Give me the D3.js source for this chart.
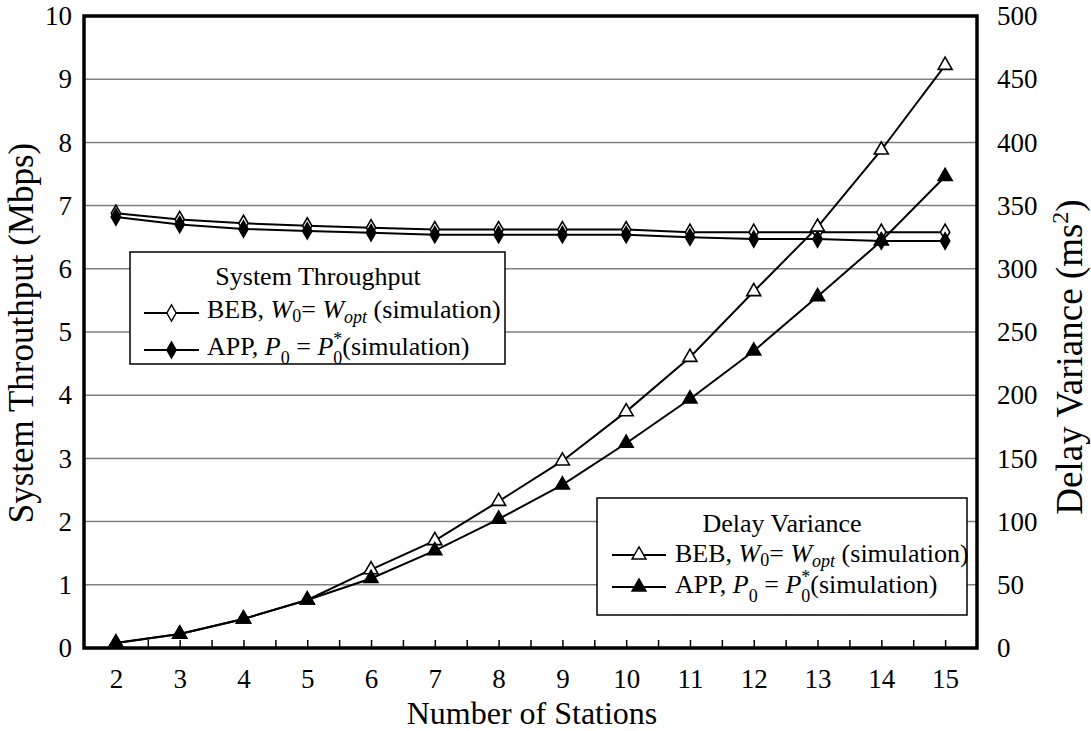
<!DOCTYPE html>
<html>
<head>
<meta charset="utf-8">
<script src="https://cdn.jsdelivr.net/npm/d3@7"></script>
<style>
  html, body { margin: 0; padding: 0; background: #fff; }
  svg { display: block; font-family: "Liberation Serif", "Times New Roman", serif; }
  svg text { font-family: "Liberation Serif", "Times New Roman", serif; }
</style>
</head>
<body>
<svg id="chart" width="1091" height="731"></svg>
<script>
// Number of stations on the x axis
const stations = [2, 3, 4, 5, 6, 7, 8, 9, 10, 11, 12, 13, 14, 15];
// System throughput (Mbps), left axis
const throughputBEB = [6.88, 6.78, 6.72, 6.68, 6.65, 6.62, 6.62, 6.62, 6.62, 6.58, 6.58, 6.58, 6.58, 6.58];
const throughputAPP = [6.82, 6.70, 6.63, 6.60, 6.57, 6.54, 6.54, 6.54, 6.54, 6.50, 6.47, 6.47, 6.44, 6.44];
// Delay variance (ms^2), right axis
const delayBEB = [4, 11, 23, 38, 62, 85, 116, 148, 187, 230, 282, 333, 394, 461];
const delayAPP = [4, 11, 23, 38, 55, 77, 102, 129, 162, 197, 235, 278, 322, 373];
// Tick labels
const leftTicks = [0, 1, 2, 3, 4, 5, 6, 7, 8, 9, 10];
const rightTicks = [0, 50, 100, 150, 200, 250, 300, 350, 400, 450, 500];

const svg = d3.select("#chart");
const L = 84, R = 977, T = 16, B = 648;
const FONT = "Liberation Serif";

const x = d3.scaleLinear().domain([1.5, 15.5]).range([L, R]);
const yL = d3.scaleLinear().domain([0, 10]).range([B, T]);
const yR = d3.scaleLinear().domain([0, 500]).range([B, T]);

// Horizontal gridlines
svg.append("g").selectAll("line").data(leftTicks.slice(1, -1)).join("line")
  .attr("x1", L).attr("x2", R)
  .attr("y1", d => yL(d)).attr("y2", d => yL(d))
  .attr("stroke", "#808080").attr("stroke-width", 1.5);

// Bottom axis: ticks at stations and between them, pointing inward
const xAxis = d3.axisBottom(x)
  .tickValues(d3.range(2, 15.01, 0.5))
  .tickSize(-8).tickSizeOuter(0).tickPadding(21)
  .tickFormat(d => Number.isInteger(d) ? d : "");
const gx = svg.append("g").attr("transform", `translate(0,${B})`).call(xAxis);
gx.select(".domain").remove();
gx.selectAll(".tick line").attr("stroke", "#000").attr("stroke-width", 1.5);
gx.selectAll("text").attr("font-size", 27).attr("fill", "#000").attr("font-family", FONT);

// Left axis labels
const gyl = svg.append("g").attr("transform", `translate(${L},0)`)
  .call(d3.axisLeft(yL).tickValues(leftTicks).tickSize(0).tickPadding(12));
gyl.select(".domain").remove();
gyl.selectAll("text").attr("font-size", 27).attr("fill", "#000").attr("font-family", FONT);

// Right axis labels
const gyr = svg.append("g").attr("transform", `translate(${R},0)`)
  .call(d3.axisRight(yR).tickValues(rightTicks).tickSize(0).tickPadding(20));
gyr.select(".domain").remove();
gyr.selectAll("text").attr("font-size", 27).attr("fill", "#000").attr("font-family", FONT);

// Plot frame
svg.append("rect").attr("x", L).attr("y", T).attr("width", R - L).attr("height", B - T)
  .attr("fill", "none").attr("stroke", "#000").attr("stroke-width", 3.5);

// Marker shapes
const diamond = d3.symbol().type(d3.symbolDiamond).size(75);
const triangle = d3.symbol().type(d3.symbolTriangle).size(85);

function drawSeries(values, yScale, shape, filled) {
  const pts = stations.map((s, i) => [x(s), yScale(values[i])]);
  svg.append("path").datum(pts)
    .attr("d", d3.line())
    .attr("fill", "none").attr("stroke", "#000").attr("stroke-width", 2);
  svg.append("g").selectAll("path").data(pts).join("path")
    .attr("transform", d => `translate(${d[0]},${d[1]})`)
    .attr("d", shape)
    .attr("fill", filled ? "#000" : "#fff")
    .attr("stroke", "#000").attr("stroke-width", 1.6);
}

drawSeries(throughputBEB, yL, diamond, false);
drawSeries(throughputAPP, yL, diamond, true);
drawSeries(delayBEB, yR, triangle, false);
drawSeries(delayAPP, yR, triangle, true);

// Legend helpers
const LF = 26, SF = 18;
function legendRow(g, lx1, lx2, ly, shape, filled) {
  g.append("line").attr("x1", lx1).attr("x2", lx2).attr("y1", ly).attr("y2", ly)
    .attr("stroke", "#000").attr("stroke-width", 2);
  g.append("path").attr("transform", `translate(${(lx1 + lx2) / 2},${ly})`)
    .attr("d", shape).attr("fill", filled ? "#000" : "#fff")
    .attr("stroke", "#000").attr("stroke-width", 1.4);
}

function bebLabel(g, tx, ty) {
  const t = g.append("text").attr("x", tx).attr("y", ty)
    .attr("font-size", LF).attr("font-family", FONT);
  t.append("tspan").text("BEB, ");
  t.append("tspan").attr("font-style", "italic").text("W");
  t.append("tspan").attr("font-size", SF).attr("dy", 4).text("0");
  t.append("tspan").attr("dy", -4).text("= ");
  t.append("tspan").attr("font-style", "italic").text("W");
  t.append("tspan").attr("font-size", SF).attr("font-style", "italic").attr("dy", 5).text("opt");
  t.append("tspan").attr("dy", -5).text(" (simulation)");
}

function appLabel(g, tx, ty) {
  const t = g.append("text").attr("x", tx).attr("y", ty)
    .attr("font-size", LF).attr("font-family", FONT);
  t.append("tspan").text("APP, ");
  t.append("tspan").attr("font-style", "italic").text("P");
  t.append("tspan").attr("font-size", SF).attr("dy", 9).text("0");
  t.append("tspan").attr("dy", -9).text(" = ");
  t.append("tspan").attr("font-style", "italic").text("P");
  t.append("tspan").attr("font-size", SF).attr("dy", -10).text("*");
  t.append("tspan").attr("font-size", SF).attr("dx", -9).attr("dy", 19).text("0");
  t.append("tspan").attr("dy", -9).text("(simulation)");
}

// Throughput legend
const lg1 = svg.append("g");
lg1.append("rect").attr("x", 130).attr("y", 252).attr("width", 375).attr("height", 112)
  .attr("fill", "#fff").attr("stroke", "#000").attr("stroke-width", 1.5);
lg1.append("text").attr("x", 318).attr("y", 285).attr("text-anchor", "middle")
  .attr("font-size", LF).attr("font-family", FONT).text("System Throughput");
legendRow(lg1, 144, 199, 313, diamond, false);
bebLabel(lg1, 207, 318);
legendRow(lg1, 144, 199, 350, diamond, true);
appLabel(lg1, 207, 355);

// Delay variance legend
const lg2 = svg.append("g");
lg2.append("rect").attr("x", 597).attr("y", 498).attr("width", 370).attr("height", 117)
  .attr("fill", "#fff").attr("stroke", "#000").attr("stroke-width", 1.5);
lg2.append("text").attr("x", 782).attr("y", 532).attr("text-anchor", "middle")
  .attr("font-size", LF).attr("font-family", FONT).text("Delay Variance");
legendRow(lg2, 612, 666, 555, triangle, false);
bebLabel(lg2, 675, 562);
legendRow(lg2, 612, 666, 587, triangle, true);
appLabel(lg2, 675, 593);

// Axis titles
svg.append("text").attr("x", 532).attr("y", 724).attr("text-anchor", "middle")
  .attr("font-size", 32).attr("font-family", FONT).text("Number of Stations");
svg.append("text").attr("transform", `translate(33,333) rotate(-90)`)
  .attr("text-anchor", "middle").attr("font-size", 35).attr("font-family", FONT)
  .text("System Throuthput (Mbps)");
const rt = svg.append("text").attr("transform", `translate(1082,357) rotate(-90)`)
  .attr("text-anchor", "middle").attr("font-size", 37).attr("font-family", FONT);
rt.append("tspan").text("Delay Variance (ms");
rt.append("tspan").attr("font-size", 24).attr("dy", -14).text("2");
rt.append("tspan").attr("dy", 14).text(")");
</script>
</body>
</html>
